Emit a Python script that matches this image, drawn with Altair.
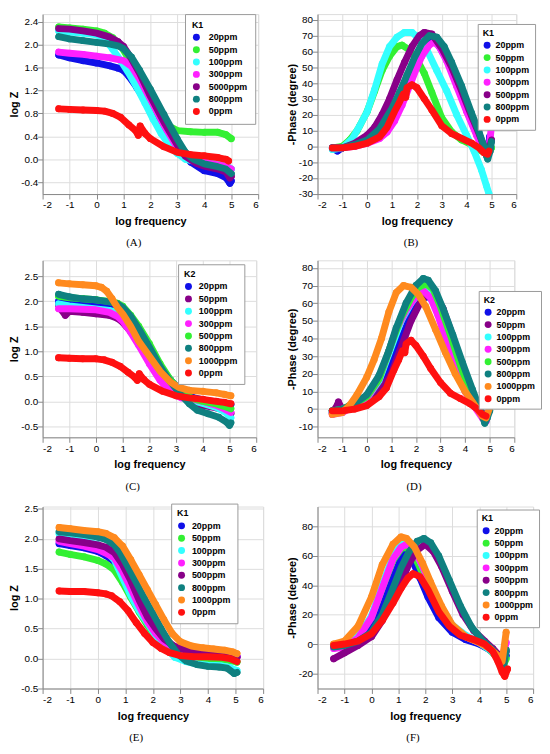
import altair as alt
import pandas as pd

# ---------------- Panel A : log Z, K1 ----------------
A_NAMES = ["20ppm", "50ppm", "100ppm", "300ppm", "5000ppm", "800ppm", "0ppm"]
A_20 = [(-1.4,1.82),(-1.0,1.77),(-0.5,1.72),(0.0,1.68),(0.5,1.63),(0.8,1.59),(1.0,1.55),(1.2,1.45),(1.5,1.25),(2.0,0.88),(2.5,0.5),(3.0,0.18),(3.5,-0.05),(4.0,-0.2),(4.5,-0.25),(4.8,-0.32),(4.95,-0.42),(5.0,-0.38)]
A_50 = [(-1.4,2.31),(-1.0,2.29),(-0.5,2.27),(0.0,2.24),(0.3,2.2),(0.6,2.12),(0.9,1.98),(1.2,1.75),(1.5,1.5),(1.8,1.2),(2.0,1.02),(2.3,0.78),(2.6,0.6),(3.0,0.5),(3.5,0.48),(4.0,0.47),(4.5,0.47),(4.8,0.43),(5.0,0.36)]
A_100 = [(-1.4,2.24),(-1.0,2.22),(-0.5,2.2),(0.0,2.17),(0.3,2.1),(0.6,1.92),(0.9,1.72),(1.2,1.5),(1.5,1.25),(1.8,0.98),(2.1,0.7),(2.4,0.45),(2.7,0.25),(3.0,0.1),(3.3,0.0),(3.7,-0.04),(4.0,-0.05),(4.5,-0.08),(4.8,-0.1),(5.0,-0.17)]
A_300 = [(-1.4,1.87),(-1.0,1.85),(-0.5,1.83),(0.0,1.8),(0.5,1.77),(1.0,1.72),(1.3,1.62),(1.6,1.4),(2.0,1.05),(2.5,0.6),(3.0,0.2),(3.5,0.02),(4.0,-0.05),(4.5,-0.1),(4.8,-0.12),(5.0,-0.17)]
A_5000 = [(-1.4,2.28),(-1.0,2.27),(-0.5,2.24),(0.0,2.2),(0.5,2.13),(0.8,2.05),(1.0,1.97),(1.3,1.75),(1.6,1.5),(2.0,1.1),(2.5,0.65),(3.0,0.25),(3.3,0.05),(3.7,-0.07),(4.0,-0.12),(4.5,-0.17),(4.8,-0.22),(4.95,-0.33),(5.0,-0.3)]
A_800 = [(-1.4,2.14),(-1.0,2.1),(-0.5,2.07),(0.0,2.04),(0.5,2.01),(0.8,1.98),(1.0,1.93),(1.3,1.78),(1.6,1.55),(2.0,1.22),(2.5,0.78),(3.0,0.35),(3.3,0.12),(3.6,0.0),(4.0,-0.08),(4.5,-0.13),(4.8,-0.17),(5.0,-0.25)]
A_0 = [(-1.4,0.88),(-1.0,0.87),(-0.5,0.86),(0.0,0.85),(0.3,0.84),(0.6,0.8),(0.9,0.73),(1.2,0.6),(1.45,0.5),(1.55,0.42),(1.62,0.58),(1.8,0.45),(2.0,0.36),(2.5,0.22),(3.0,0.12),(3.5,0.08),(4.0,0.06),(4.5,0.03),(4.8,0.0),(4.9,-0.03)]

# ---------------- Panel B : -Phase, K1 ----------------
B_NAMES = ["20ppm", "50ppm", "100ppm", "300ppm", "500ppm", "800ppm", "0ppm"]
B_20 = [(-1.4,-1),(-1.2,-3),(-1.0,-1),(-0.5,1),(0.0,4),(0.5,10),(1.0,22),(1.5,40),(2.0,58),(2.4,67),(2.8,66),(3.2,55),(3.6,40),(4.0,23),(4.4,8),(4.7,-2),(4.8,-5),(4.9,0),(4.93,6)]
B_50 = [(-1.4,-1),(-1.0,0),(-0.7,4),(-0.4,10),(0.0,22),(0.3,35),(0.6,48),(0.9,57),(1.2,63),(1.4,64),(1.7,61),(2.0,55),(2.3,46),(2.6,34),(3.0,18),(3.4,9),(3.8,4),(4.2,1),(4.6,-3),(4.8,-4),(5.0,-1)]
B_100 = [(-1.4,-2),(-1.0,-1),(-0.6,5),(-0.3,13),(0.0,22),(0.3,36),(0.6,52),(0.9,63),(1.2,69),(1.5,72),(1.8,72),(2.1,68),(2.4,61),(2.8,48),(3.2,35),(3.6,20),(4.0,7),(4.3,-3),(4.6,-15),(4.8,-25),(4.9,-30)]
B_300 = [(-1.4,-1),(-1.0,-1),(-0.5,0),(0.0,2),(0.5,5),(0.8,9),(1.1,16),(1.4,26),(1.7,38),(2.0,50),(2.2,57),(2.5,64),(2.7,66),(2.9,63),(3.2,54),(3.6,38),(4.0,22),(4.4,7),(4.7,-3),(4.85,-5),(4.95,5),(5.0,13)]
B_500 = [(-1.4,-1),(-1.0,-1),(-0.5,2),(0.0,7),(0.3,12),(0.6,20),(0.9,30),(1.2,42),(1.5,53),(1.8,63),(2.1,70),(2.3,72),(2.6,71),(3.0,62),(3.4,50),(3.8,35),(4.2,19),(4.5,8),(4.7,0),(4.85,-6),(5.0,4)]
B_800 = [(-1.4,-1),(-1.0,-1),(-0.5,1),(0.0,4),(0.5,11),(1.0,24),(1.3,34),(1.6,45),(1.9,56),(2.2,65),(2.5,70),(2.8,69),(3.1,63),(3.4,53),(3.8,38),(4.2,21),(4.5,9),(4.7,0),(4.8,-6),(4.85,-8),(4.95,-3),(5.0,3)]
B_0 = [(-1.4,-1),(-1.0,-1),(-0.5,0),(0.0,2),(0.5,6),(0.8,12),(1.1,22),(1.3,28),(1.45,33),(1.55,31),(1.6,37),(1.8,39),(2.0,37),(2.3,30),(2.6,23),(3.0,13),(3.4,8),(3.8,5),(4.2,2),(4.5,-1),(4.7,-4),(4.85,-5),(4.9,-3)]

# ---------------- Panel C : log Z, K2 ----------------
C_NAMES = ["20ppm", "50ppm", "100ppm", "300ppm", "500ppm", "800ppm", "1000ppm", "0ppm"]
C_20 = [(-1.4,2.0),(-1.0,1.97),(-0.5,1.94),(0.0,1.91),(0.5,1.87),(0.8,1.82),(1.0,1.76),(1.3,1.6),(1.6,1.38),(2.0,1.02),(2.4,0.7),(2.8,0.42),(3.2,0.2),(3.6,0.08),(4.0,0.03),(4.5,-0.01),(4.8,-0.03),(5.05,-0.07)]
C_50 = [(-1.4,1.93),(-1.25,1.8),(-1.15,1.72),(-1.0,1.8),(-0.5,1.78),(0.0,1.75),(0.5,1.72),(0.8,1.66),(1.0,1.58),(1.3,1.4),(1.6,1.18),(2.0,0.88),(2.4,0.58),(2.8,0.33),(3.2,0.12),(3.6,-0.03),(4.0,-0.08),(4.5,-0.13),(4.8,-0.17),(5.05,-0.25)]
C_100 = [(-1.4,1.95),(-1.0,1.91),(-0.5,1.88),(0.0,1.85),(0.5,1.82),(0.8,1.77),(1.0,1.7),(1.3,1.5),(1.6,1.25),(2.0,0.9),(2.4,0.55),(2.8,0.28),(3.2,0.1),(3.6,0.02),(4.0,-0.04),(4.5,-0.12),(4.8,-0.2),(5.05,-0.33)]
C_300 = [(-1.4,1.85),(-1.0,1.85),(-0.5,1.84),(0.0,1.83),(0.5,1.78),(0.8,1.7),(1.0,1.6),(1.3,1.38),(1.6,1.12),(2.0,0.75),(2.4,0.42),(2.8,0.17),(3.2,0.07),(3.6,0.04),(4.0,0.0),(4.5,-0.08),(4.8,-0.15),(5.05,-0.22)]
C_500 = [(-1.4,2.1),(-1.0,2.07),(-0.5,2.05),(0.0,2.03),(0.5,2.0),(0.8,1.96),(1.0,1.9),(1.3,1.72),(1.6,1.5),(2.0,1.15),(2.4,0.75),(2.8,0.42),(3.2,0.18),(3.6,0.06),(4.0,0.0),(4.5,-0.05),(4.8,-0.1),(5.05,-0.15)]
C_800 = [(-1.4,2.14),(-1.0,2.09),(-0.5,2.05),(0.0,2.03),(0.5,1.99),(0.8,1.95),(1.0,1.88),(1.3,1.7),(1.6,1.45),(2.0,1.08),(2.4,0.7),(2.8,0.38),(3.2,0.12),(3.5,-0.05),(3.8,-0.18),(4.2,-0.25),(4.6,-0.32),(4.9,-0.42),(5.0,-0.48),(5.05,-0.43)]
C_1000 = [(-1.4,2.37),(-1.0,2.35),(-0.5,2.33),(0.0,2.31),(0.2,2.28),(0.4,2.2),(0.6,2.05),(0.8,1.88),(1.0,1.75),(1.3,1.5),(1.6,1.2),(2.0,0.9),(2.4,0.6),(2.8,0.38),(3.1,0.28),(3.5,0.22),(4.0,0.2),(4.5,0.17),(4.8,0.14),(5.05,0.11)]
C_0 = [(-1.4,0.87),(-1.0,0.86),(-0.5,0.85),(0.0,0.85),(0.3,0.83),(0.6,0.78),(0.9,0.7),(1.2,0.58),(1.45,0.48),(1.55,0.42),(1.62,0.55),(1.8,0.43),(2.0,0.34),(2.5,0.2),(3.0,0.11),(3.5,0.07),(4.0,0.04),(4.5,0.0),(4.8,-0.02),(5.05,-0.05)]

# ---------------- Panel D : -Phase, K2 ----------------
D_NAMES = ["20ppm", "50ppm", "100ppm", "300ppm", "500ppm", "800ppm", "1000ppm", "0ppm"]
D_20 = [(-1.4,-1),(-1.0,-1),(-0.5,1),(0.0,4),(0.5,11),(1.0,25),(1.4,40),(1.8,53),(2.2,62),(2.5,64),(2.8,60),(3.1,50),(3.4,38),(3.8,22),(4.2,9),(4.5,1),(4.8,-5),(4.9,-3)]
D_50 = [(-1.4,-2),(-1.2,2),(-1.15,4),(-1.0,0),(-0.5,1),(0.0,3),(0.5,9),(1.0,20),(1.4,35),(1.8,50),(2.2,61),(2.5,66),(2.8,65),(3.1,57),(3.4,45),(3.8,28),(4.2,12),(4.5,3),(4.8,-5),(4.9,-4)]
D_100 = [(-1.4,-2),(-1.0,-1),(-0.5,2),(0.0,6),(0.5,16),(1.0,35),(1.4,50),(1.8,60),(2.2,67),(2.5,68),(2.8,63),(3.1,52),(3.5,35),(3.9,18),(4.3,5),(4.6,-2),(4.8,-5)]
D_300 = [(-1.4,-3),(-1.0,-2),(-0.5,2),(0.0,6),(0.5,17),(0.9,33),(1.2,45),(1.6,56),(2.0,64),(2.3,67),(2.6,63),(2.9,53),(3.2,40),(3.6,24),(4.0,10),(4.4,1),(4.7,-5),(4.85,-7)]
D_500 = [(-1.4,-1),(-1.0,0),(-0.5,3),(0.0,7),(0.5,17),(1.0,37),(1.4,52),(1.8,63),(2.1,69),(2.4,71),(2.7,68),(3.0,58),(3.4,42),(3.8,25),(4.2,10),(4.5,2),(4.8,-6),(4.9,-3)]
D_800 = [(-1.4,-1),(-1.0,0),(-0.5,3),(0.0,8),(0.5,19),(0.9,33),(1.2,46),(1.6,60),(2.0,70),(2.3,74),(2.5,73),(2.8,67),(3.1,57),(3.5,42),(3.9,26),(4.3,11),(4.6,0),(4.8,-8),(4.9,-5),(5.0,-1)]
D_1000 = [(-1.4,-3),(-1.0,-2),(-0.7,2),(-0.4,8),(0.0,18),(0.3,28),(0.6,40),(0.9,55),(1.2,66),(1.5,70),(1.8,69),(2.1,65),(2.4,58),(2.8,45),(3.2,32),(3.6,20),(4.0,10),(4.4,2),(4.7,-4),(4.85,-5),(5.0,1)]
D_0 = [(-1.4,-1),(-1.0,-1),(-0.5,0),(0.0,2),(0.5,7),(0.8,12),(1.1,22),(1.3,28),(1.45,33),(1.55,32),(1.6,37),(1.8,39),(2.0,36),(2.3,30),(2.6,23),(3.0,15),(3.4,9),(3.8,6),(4.2,3),(4.5,0),(4.7,-3),(4.85,-4)]

# ---------------- Panel E : log Z, K1 ----------------
E_NAMES = ["20ppm", "50ppm", "100ppm", "300ppm", "500ppm", "800ppm", "1000ppm", "0ppm"]
E_20 = [(-1.4,1.92),(-1.0,1.89),(-0.5,1.85),(0.0,1.79),(0.3,1.72),(0.6,1.62),(0.9,1.38),(1.2,1.1),(1.5,0.83),(1.8,0.58),(2.1,0.39),(2.4,0.26),(2.8,0.16),(3.2,0.12),(3.6,0.11),(4.0,0.1),(4.5,0.09),(4.8,0.07),(5.05,0.03)]
E_50 = [(-1.4,1.78),(-1.0,1.74),(-0.5,1.7),(0.0,1.64),(0.3,1.58),(0.6,1.48),(0.9,1.27),(1.2,1.02),(1.5,0.78),(1.8,0.56),(2.1,0.36),(2.4,0.2),(2.8,0.07),(3.2,0.02),(3.6,0.0),(4.0,-0.01),(4.5,-0.02),(4.8,-0.03),(5.05,-0.06)]
E_100 = [(-1.4,2.09),(-1.0,2.03),(-0.5,1.97),(0.0,1.9),(0.3,1.8),(0.6,1.65),(0.9,1.35),(1.2,1.05),(1.5,0.8),(1.8,0.6),(2.1,0.38),(2.4,0.2),(2.8,0.02),(3.2,-0.05),(3.6,-0.09),(4.0,-0.11),(4.5,-0.12),(4.8,-0.15),(5.05,-0.2)]
E_300 = [(-1.4,1.96),(-1.0,1.92),(-0.5,1.88),(0.0,1.82),(0.3,1.76),(0.6,1.68),(0.9,1.45),(1.2,1.17),(1.5,0.88),(1.8,0.62),(2.1,0.42),(2.4,0.28),(2.8,0.17),(3.2,0.13),(3.6,0.12),(4.0,0.11),(4.5,0.1),(4.8,0.08),(5.05,0.03)]
E_500 = [(-1.4,2.0),(-1.0,1.97),(-0.5,1.94),(0.0,1.9),(0.3,1.86),(0.6,1.77),(0.9,1.57),(1.2,1.3),(1.5,0.98),(1.8,0.7),(2.1,0.5),(2.4,0.33),(2.8,0.2),(3.2,0.14),(3.6,0.12),(4.0,0.11),(4.5,0.1),(4.8,0.08),(5.05,0.02)]
E_800 = [(-1.4,2.12),(-1.0,2.1),(-0.5,2.07),(0.0,2.03),(0.3,1.99),(0.6,1.9),(0.8,1.78),(1.1,1.53),(1.4,1.27),(1.7,1.0),(2.0,0.75),(2.3,0.5),(2.6,0.27),(2.9,0.08),(3.2,-0.04),(3.6,-0.1),(4.0,-0.13),(4.4,-0.14),(4.7,-0.16),(4.95,-0.25),(5.05,-0.23)]
E_1000 = [(-1.4,2.19),(-1.0,2.17),(-0.5,2.14),(0.0,2.12),(0.3,2.09),(0.6,2.02),(0.9,1.88),(1.2,1.65),(1.5,1.4),(1.8,1.15),(2.1,0.9),(2.4,0.65),(2.7,0.42),(3.0,0.28),(3.4,0.21),(3.8,0.18),(4.2,0.16),(4.6,0.14),(4.9,0.11),(5.05,0.08)]
E_0 = [(-1.4,1.13),(-1.0,1.12),(-0.5,1.12),(0.0,1.1),(0.3,1.08),(0.5,1.05),(0.8,0.95),(1.1,0.8),(1.4,0.6),(1.7,0.42),(2.0,0.27),(2.3,0.17),(2.6,0.1),(3.0,0.05),(3.5,0.03),(4.0,0.03),(4.5,0.02),(4.8,0.0),(5.05,-0.05)]

# ---------------- Panel F : -Phase, K1 ----------------
F_NAMES = ["20ppm", "50ppm", "100ppm", "300ppm", "500ppm", "800ppm", "1000ppm", "0ppm"]
F_20 = [(-1.4,-1),(-1.0,0),(-0.5,3),(0.0,10),(0.4,25),(0.8,45),(1.1,58),(1.3,63),(1.5,58),(1.8,45),(2.1,32),(2.5,18),(3.0,8),(3.5,3),(4.0,0),(4.4,-4),(4.7,-9),(4.85,-14),(5.0,-8)]
F_50 = [(-1.4,-1),(-1.0,0),(-0.5,5),(0.0,18),(0.4,38),(0.8,57),(1.1,65),(1.3,66),(1.6,60),(1.9,48),(2.2,35),(2.6,20),(3.0,11),(3.5,5),(4.0,1),(4.4,-4),(4.7,-10),(4.85,-17),(5.0,-10)]
F_100 = [(-1.4,-2),(-1.0,-1),(-0.5,5),(0.0,19),(0.4,40),(0.8,60),(1.1,68),(1.3,69),(1.6,64),(1.9,53),(2.2,40),(2.6,25),(3.0,13),(3.5,6),(4.0,1),(4.4,-4),(4.7,-9),(4.85,-14),(5.0,-5)]
F_300 = [(-1.4,-3),(-1.0,-2),(-0.5,4),(0.0,18),(0.4,38),(0.8,58),(1.1,66),(1.3,68),(1.6,64),(1.9,53),(2.2,40),(2.6,24),(3.0,12),(3.5,5),(4.0,1),(4.4,-3),(4.7,-7),(4.85,-10),(5.0,1)]
F_500 = [(-1.4,-10),(-1.0,-6),(-0.5,-1),(0.0,5),(0.4,16),(0.8,31),(1.1,42),(1.4,55),(1.7,64),(2.0,68),(2.3,63),(2.6,53),(3.0,36),(3.4,20),(3.8,9),(4.2,2),(4.5,-3),(4.75,-8),(4.85,-12),(5.0,-5)]
F_800 = [(-1.4,-2),(-1.0,-1),(-0.5,2),(0.0,8),(0.4,20),(0.8,38),(1.1,52),(1.4,63),(1.7,70),(1.95,72),(2.2,69),(2.5,60),(2.9,43),(3.3,26),(3.7,12),(4.1,3),(4.5,-4),(4.75,-10),(4.9,-16),(5.0,-4)]
F_1000 = [(-1.4,0),(-1.0,2),(-0.5,12),(0.0,32),(0.4,54),(0.8,68),(1.1,73),(1.3,72),(1.6,66),(1.9,55),(2.2,42),(2.6,26),(3.0,13),(3.5,5),(4.0,1),(4.4,-3),(4.7,-8),(4.85,-12),(5.0,8)]
F_0 = [(-1.4,-1),(-1.0,0),(-0.5,2),(0.0,7),(0.4,16),(0.8,28),(1.1,38),(1.35,45),(1.55,48),(1.8,46),(2.1,37),(2.5,22),(2.9,12),(3.3,6),(3.8,3),(4.2,0),(4.5,-5),(4.7,-12),(4.85,-19),(4.95,-22),(5.05,-17)]

X_TICKS = [-2, -1, 0, 1, 2, 3, 4, 5, 6]
A_YTICKS = [-0.4, 0.0, 0.4, 0.8, 1.2, 1.6, 2.0, 2.4]
B_YTICKS = [-30, -20, -10, 0, 10, 20, 30, 40, 50, 60, 70, 80]
C_YTICKS = [-0.5, 0.0, 0.5, 1.0, 1.5, 2.0, 2.5]
D_YTICKS = [-10, 0, 10, 20, 30, 40, 50, 60, 70, 80]
E_YTICKS = [-0.5, 0.0, 0.5, 1.0, 1.5, 2.0, 2.5]
F_YTICKS = [-20, 0, 20, 40, 60, 80]

BLUE, GREEN, CYAN, MAGENTA = "#1010E8", "#33F033", "#33FFFF", "#FF20FF"
PURPLE, TEAL, ORANGE, RED = "#880088", "#0F8080", "#FF8A1E", "#FF1010"
COLS_K1 = [BLUE, GREEN, CYAN, MAGENTA, PURPLE, TEAL, RED]
COLS_K2 = [BLUE, PURPLE, CYAN, MAGENTA, GREEN, TEAL, ORANGE, RED]
COLS_K1B = [BLUE, GREEN, CYAN, MAGENTA, PURPLE, TEAL, ORANGE, RED]

FONT = "Liberation Sans"


def label_expr(fmt):
    return ("datum.value < 0 ? '-' + format(-datum.value, '%s') : format(datum.value, '%s')" % (fmt, fmt))


def panel(series, names, colors, ydom, yticks, yfmt, ytitle, ktitle, lx, ly, lpad, loff, w, h, label):
    frames = []
    for name, pts in zip(names, series):
        df = pd.DataFrame(pts, columns=["f", "v"])
        df["s"] = name
        frames.append(df)
    alldf = pd.concat(frames, ignore_index=True)
    xenc = alt.X("f:Q", scale=alt.Scale(domain=[-2, 6], nice=False, zero=False),
                 axis=alt.Axis(values=X_TICKS, labelExpr=label_expr("d"), title="log frequency",
                               titlePadding=6, labelPadding=1))
    yenc = alt.Y("v:Q", scale=alt.Scale(domain=ydom, nice=False, zero=False),
                 axis=alt.Axis(values=yticks, labelExpr=label_expr(yfmt), title=ytitle,
                               titlePadding=1, labelPadding=0))
    legend_layer = alt.Chart(alldf).mark_circle(size=49, opacity=1, clip=True).encode(
        x=xenc, y=yenc,
        color=alt.Color("s:N", scale=alt.Scale(domain=names, range=colors),
                        legend=alt.Legend(title=ktitle, orient="none", legendX=lx, legendY=ly,
                                          fillColor="white", strokeColor="#9a9a9a", padding=lpad,
                                          titleFont=FONT, titleFontSize=9, titleFontWeight="bold",
                                          titleColor="black", titlePadding=3,
                                          labelFont=FONT, labelFontSize=9, labelFontWeight="bold",
                                          labelColor="black", labelOffset=loff,
                                          symbolType="circle", symbolSize=49, symbolStrokeWidth=0,
                                          symbolOpacity=1, rowPadding=2.5)))
    lines = [alt.Chart(f).mark_line(strokeWidth=7, strokeCap="round", strokeJoin="round", clip=True)
             .encode(x=xenc, y=yenc, color=alt.value(c)) for f, c in zip(frames, colors)]
    return alt.layer(legend_layer, *lines).properties(
        width=w, height=h,
        title=alt.TitleParams(label, orient="bottom", font="Liberation Serif", fontSize=11,
                              fontWeight="normal", color="black", offset=11, frame="bounds"))


pA = panel([A_20, A_50, A_100, A_300, A_5000, A_800, A_0], A_NAMES, COLS_K1,
           [-0.607, 2.533], A_YTICKS, ".1f", "log Z", "K1", 144, 0, 7, 8, 218, 182, "(A)")
pB = panel([B_20, B_50, B_100, B_300, B_500, B_800, B_0], B_NAMES, COLS_K1,
           [-30.2, 83.6], B_YTICKS, "d", "-Phase (degree)", "K1", 162, 10, 5, 4, 201, 182, "(B)")
pC = panel([C_20, C_50, C_100, C_300, C_500, C_800, C_1000, C_0], C_NAMES, COLS_K2,
           [-0.72, 2.82], C_YTICKS, ".1f", "log Z", "K2", 137, 4, 6, 6, 216, 179, "(C)")
pD = panel([D_20, D_50, D_100, D_300, D_500, D_800, D_1000, D_0], D_NAMES, COLS_K2,
           [-16, 84.3], D_YTICKS, "d", "-Phase (degree)", "K2", 163, 31, 5, 4, 199, 179, "(D)")
pE = panel([E_20, E_50, E_100, E_300, E_500, E_800, E_1000, E_0], E_NAMES, COLS_K1B,
           [-0.5, 2.54], E_YTICKS, ".1f", "log Z", "K1", 130, -3, 6, 6, 223, 184, "(E)")
pF = panel([F_20, F_50, F_100, F_300, F_500, F_800, F_1000, F_0], F_NAMES, COLS_K1B,
           [-30.3, 93.7], F_YTICKS, "d", "-Phase (degree)", "K1", 161, 3, 5, 4, 218, 184, "(F)")

chart = alt.concat(pA, pB, pC, pD, pE, pF, columns=2, bounds="flush", align="all",
                   spacing=alt.RowColnumber(row=65, column=55)).resolve_scale(
    color="independent", x="independent", y="independent").resolve_legend(
    color="independent").properties(
    padding={"left": 0, "top": 1, "right": 0, "bottom": 0}
).configure_view(stroke=None).configure_axis(
    grid=False, domainColor="black", domainWidth=1, tickColor="black", tickWidth=1, tickSize=3,
    labelFont=FONT, labelFontSize=9, labelFontWeight="bold", labelColor="#111111",
    titleFont=FONT, titleFontSize=9, titleFontWeight="bold", titleColor="#111111",
).configure(background="white")

chart.save("out.html", embed_options={"renderer": "svg", "actions": False})
